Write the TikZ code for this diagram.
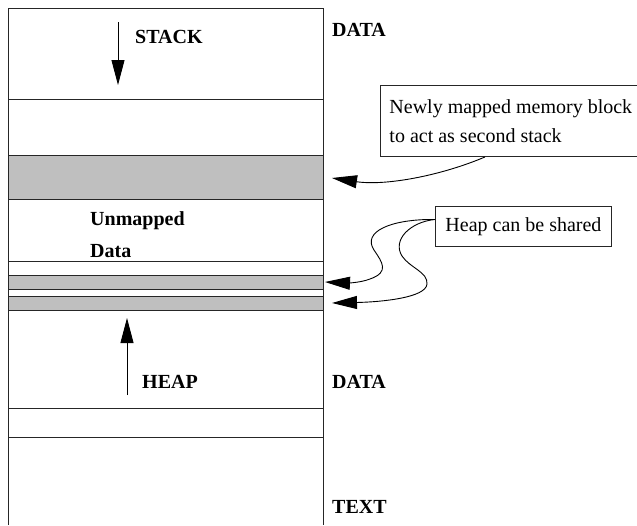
\documentclass[tikz,border=0pt]{standalone}
\usepackage{fontspec}
\setmainfont{Liberation Serif}
\usetikzlibrary{arrows.meta}
\begin{document}
\begin{tikzpicture}[x=1pt,y=-1pt,
  wall/.style={draw=black!85, line width=1pt},
  band/.style={fill=black!25, draw=black!85, line width=1pt},
  lbl/.style={font=\fontsize{20}{22}\selectfont\bfseries, anchor=base west, inner sep=0pt},
  note/.style={draw=black!85, line width=0.9pt, font=\fontsize{20}{29}\selectfont,
    align=left},
  tip/.style={line width=0.9pt, -{Triangle[length=25pt,width=13pt]}}
]
\useasboundingbox (0,0) rectangle (637,525);

% grey (mapped) strips of the address space
\draw[band] (8,155) rectangle (323,199);
\draw[band] (8,275) rectangle (323,289);
\draw[band] (8,296) rectangle (323,310);

% the address space column and its dividers
\draw[wall] (8,525) -- (8,8) -- (323,8) -- (323,525);
\draw[wall] (8,99) -- (323,99);
\draw[wall] (8,261) -- (323,261);
\draw[wall] (8,408) -- (323,408);
\draw[wall] (8,437) -- (323,437);

% growth directions
\coordinate (stacktop) at (118,22);
\coordinate (stackend) at (118,85);
\draw[tip] (stacktop) -- (stackend);
\coordinate (heapbot) at (127,395);
\coordinate (heapend) at (127,318);
\draw[tip] (heapbot) -- (heapend);

% labels
\node[lbl] (stack) at (135,43) {STACK};
\node[lbl] (heap) at (142,388) {HEAP};
\node[lbl] (unm) at (90,225) {Unmapped};
\node[lbl] (dat) at (90,257) {Data};
\node[lbl] (data1) at (332,36) {DATA};
\node[lbl] (data2) at (332,388) {DATA};
\node[lbl] (text) at (332,513) {TEXT};

% callouts
\node[note, anchor=north west, minimum width=256pt, inner xsep=9pt, inner ysep=14pt]
  (newblk) at (380,85) {Newly mapped memory block\\to act as second stack};
\node[note, anchor=north west, minimum width=176pt, minimum height=40pt]
  (shared) at (435,206) {Heap can be shared};

% targets on the strips
\coordinate (stk2) at (332,178);
\coordinate (hp1) at (325,282);
\coordinate (hp2) at (332,303);

\draw[tip] ([xshift=105pt]newblk.south west) .. controls (440,176) and (385,186) .. (stk2);
\draw[tip] ([yshift=7pt]shared.west) .. controls (390,219) and (362,232) .. (374,250)
  .. controls (382,262) and (390,272) .. (370,279)
  .. controls (360,283) and (345,283) .. (hp1);
\draw[tip] ([yshift=7pt]shared.west) .. controls (410,222) and (392,240) .. (402,256)
  .. controls (410,268) and (428,272) .. (427,284)
  .. controls (426,298) and (380,302) .. (hp2);
\end{tikzpicture}
\end{document}
